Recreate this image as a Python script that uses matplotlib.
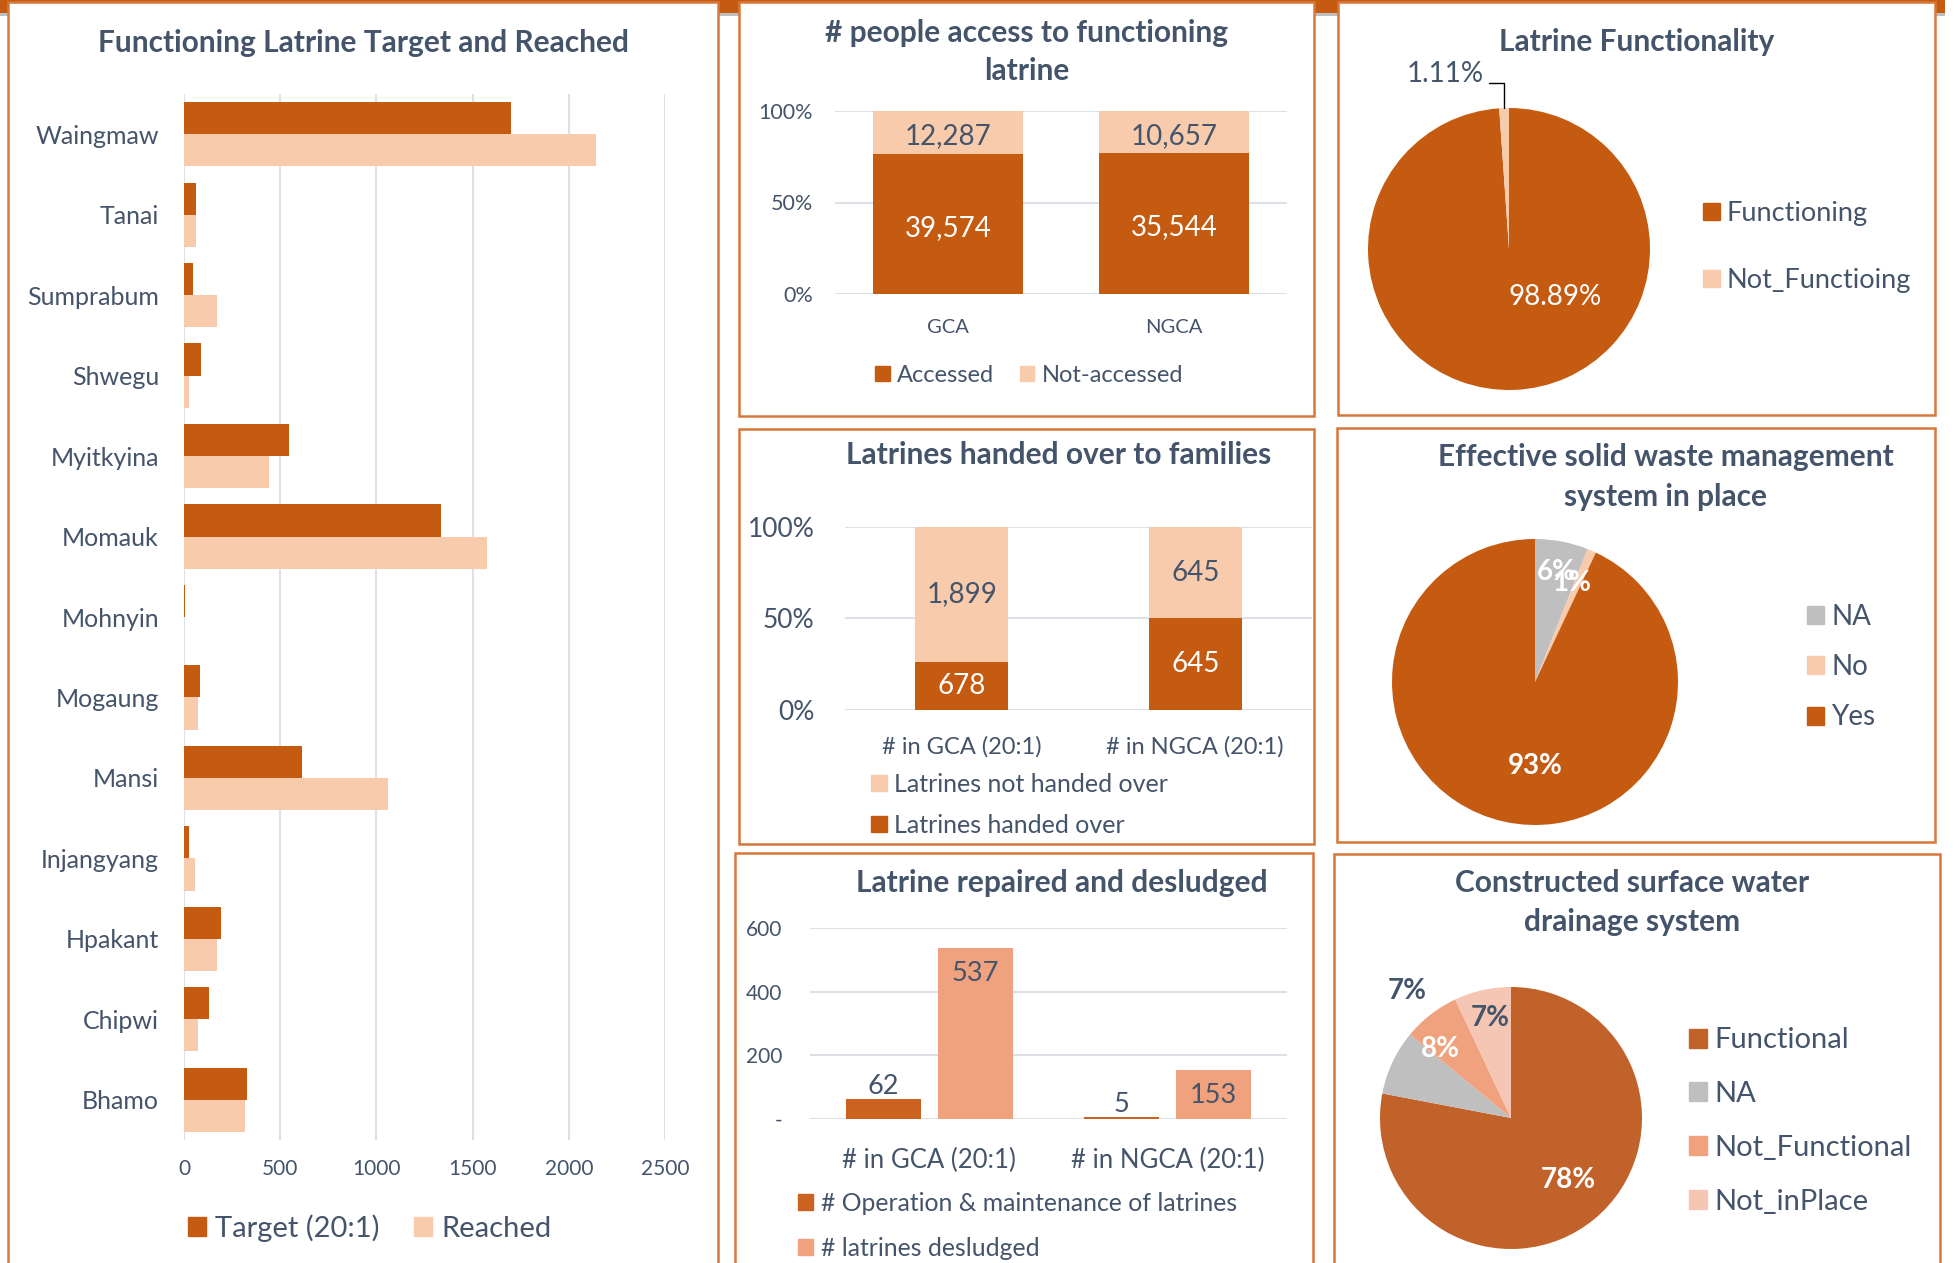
import numpy as np
import matplotlib
matplotlib.use("Agg")
import matplotlib.pyplot as plt
from matplotlib.patches import Rectangle, Patch

plt.rcParams["font.family"] = ["Lato", "DejaVu Sans"]

# ------------------------------------------------------------------
# DATA
# ------------------------------------------------------------------
townships = ["Waingmaw", "Tanai", "Sumprabum", "Shwegu", "Myitkyina", "Momauk",
             "Mohnyin", "Mogaung", "Mansi", "Injangyang", "Hpakant", "Chipwi", "Bhamo"]
target = [1700, 60, 48, 90, 547, 1336, 5, 85, 612, 27, 194, 131, 329]
reached = [2140, 60, 172, 27, 443, 1573, 0, 73, 1058, 56, 169, 73, 317]

access_areas = ["GCA", "NGCA"]
accessed = [39574, 35544]
not_accessed = [12287, 10657]

func_labels = ["Functioning", "Not_Functioing"]
func_values = [98.89, 1.11]

handover_areas = ["# in GCA (20:1)", "# in NGCA (20:1)"]
handed_over = [678, 645]
not_handed_over = [1899, 645]

waste_labels = ["NA", "No", "Yes"]
waste_values = [6, 1, 93]

repair_areas = ["# in GCA (20:1)", "# in NGCA (20:1)"]
om_latrines = [62, 5]
desludged = [537, 153]

drain_labels = ["Functional", "NA", "Not_Functional", "Not_inPlace"]
drain_values = [78, 8, 7, 7]

# ------------------------------------------------------------------
# STYLE
# ------------------------------------------------------------------
DARK = "#C55A11"
LIGHT = "#F8CBAD"
GRAY = "#BFBFBF"
SALMON = "#F0A27F"
PINK = "#F6C6B4"
FUNC = "#C0622A"
OM = "#CC6220"
TEXT = "#44546A"
BORDER = "#D6783A"
GRID = "#DDE1E7"
TITLE_FS = 21.5

W, H = 1959, 1263
fig = plt.figure(figsize=(W / 100, H / 100), dpi=100)


def add_ax(x0, y0, x1, y1):
    # pixel box (top-left origin) -> figure axes
    return fig.add_axes([x0 / W, 1 - y1 / H, (x1 - x0) / W, (y1 - y0) / H])


def ftext(x, y, s, **kw):
    kw.setdefault("color", TEXT)
    kw.setdefault("ha", "center")
    kw.setdefault("va", "center")
    fig.text(x / W, 1 - y / H, s, **kw)


def title(x, y, s):
    ftext(x, y, s, fontsize=TITLE_FS, fontweight="bold")


def panel(x0, y0, x1, y1):
    fig.add_artist(Rectangle((x0 / W, 1 - y1 / H), (x1 - x0) / W, (y1 - y0) / H,
                             transform=fig.transFigure, facecolor="white",
                             edgecolor=BORDER, lw=1.8, zorder=0))


def legend_at(ax, handles, x, y, fs, ncol=1, spacing=0.5, colsp=1.5, tpad=0.3):
    ax.legend(handles=handles, loc="center left", bbox_to_anchor=(x / W, 1 - y / H),
              bbox_transform=fig.transFigure, frameon=False, ncol=ncol,
              fontsize=fs, labelcolor=TEXT, handlelength=0.62, handleheight=0.62,
              handletextpad=tpad, borderpad=0, borderaxespad=0,
              labelspacing=spacing, columnspacing=colsp)


def style_bar_ax(ax):
    for s in ax.spines.values():
        s.set_visible(False)
    ax.set_axisbelow(True)


# background band + panels
fig.add_artist(Rectangle((0, 1 - 16 / H), 1945 / W, 16 / H, transform=fig.transFigure,
                         facecolor="#BFBFBF", lw=0, zorder=0))
fig.add_artist(Rectangle((0, 1 - 13 / H), 1945 / W, 13 / H, transform=fig.transFigure,
                         facecolor=DARK, lw=0, zorder=0))
panel(8, 2, 718, 1290)
panel(739, 2, 1314, 416)
panel(1338, 2, 1935, 415)
panel(739, 429, 1314, 844)
panel(1337, 428, 1935, 842)
panel(735, 853, 1313, 1290)
panel(1334, 854, 1940, 1290)

# ------------------------------------------------------------------
# LEFT: Functioning latrine target and reached
# ------------------------------------------------------------------
ax = add_ax(184, 94, 665, 1140)
y = np.arange(len(townships))
ax.barh(y - 0.2, target, height=0.4, color=DARK)
ax.barh(y + 0.2, reached, height=0.4, color=LIGHT)
ax.set_ylim(len(townships) - 0.5, -0.5)
ax.set_xlim(0, 2500)
ax.set_xticks([0, 500, 1000, 1500, 2000, 2500])
ax.set_yticks(y, labels=townships)
ax.tick_params(axis="y", length=0, pad=18, labelsize=18, labelcolor=TEXT)
ax.tick_params(axis="x", length=0, pad=14, labelsize=15, labelcolor=TEXT)
ax.xaxis.grid(True, color=GRID, lw=1.5)
style_bar_ax(ax)
title(363, 43, "Functioning Latrine Target and Reached")
legend_at(ax, [Patch(color=DARK, label="Target (20:1)"), Patch(color=LIGHT, label="Reached")],
          188, 1228, 21, ncol=2, colsp=1.2)

# ------------------------------------------------------------------
# MIDDLE ROW 1: people access to functioning latrine (100% stacked)
# ------------------------------------------------------------------
ax = add_ax(835, 111, 1287, 294)
x = np.arange(len(access_areas))
tot = np.array(accessed) + np.array(not_accessed)
acc_pct = np.array(accessed) / tot
ax.bar(x, acc_pct, width=0.667, color=DARK)
ax.bar(x, 1 - acc_pct, bottom=acc_pct, width=0.667, color=LIGHT)
for i in range(len(x)):
    ax.text(x[i], acc_pct[i] / 2 - 0.02, f"{accessed[i]:,}", color="white", fontsize=20,
            ha="center", va="center")
    ax.text(x[i], acc_pct[i] + (1 - acc_pct[i]) / 2 - 0.02, f"{not_accessed[i]:,}",
            color=TEXT, fontsize=20, ha="center", va="center")
ax.set_xlim(-0.5, 1.5)
ax.set_ylim(0, 1)
ax.set_yticks([0, 0.5, 1], labels=["0%", "50%", "100%"])
ax.set_xticks(x, labels=access_areas)
ax.tick_params(axis="y", length=0, pad=16, labelsize=15.5, labelcolor=TEXT)
ax.tick_params(axis="x", length=0, pad=18, labelsize=14.5, labelcolor=TEXT)
ax.yaxis.grid(True, color=GRID, lw=1.5)
style_bar_ax(ax)
title(1027, 33, "# people access to functioning")
title(1027, 71, "latrine")
legend_at(ax, [Patch(color=DARK, label="Accessed"), Patch(color=LIGHT, label="Not-accessed")],
          875, 375, 17, ncol=2, colsp=1.1)

# ------------------------------------------------------------------
# RIGHT ROW 1: latrine functionality pie
# ------------------------------------------------------------------
R = 1.4
cx, cy, r = 1509, 249, 141
ax = add_ax(cx - r * R, cy - r * R, cx + r * R, cy + r * R)
wedges, _ = ax.pie(func_values, colors=[DARK, LIGHT], startangle=90, counterclock=False,
                   radius=1, wedgeprops=dict(lw=0))
ax.set_xlim(-R, R)
ax.set_ylim(-R, R)
ax.text(0.33, -0.34, f"{func_values[0]:.2f}%", color="white", fontsize=20,
        ha="center", va="center")
w = wedges[1]
ang = np.deg2rad((w.theta1 + w.theta2) / 2)
ax.annotate(f"{func_values[1]:.2f}%", xy=(np.cos(ang), np.sin(ang)), xytext=(-0.18, 1.24),
            ha="right", va="center", fontsize=20, color=TEXT,
            arrowprops=dict(arrowstyle="-", color="black", lw=1, relpos=(1, 0.15),
                            shrinkA=2, shrinkB=0,
                            connectionstyle="angle,angleA=0,angleB=90,rad=0"))
title(1637, 42, "Latrine Functionality")
legend_at(ax, [Patch(color=DARK, label=func_labels[0]), Patch(color=LIGHT, label=func_labels[1])],
          1703, 247, 19.5, spacing=1.55, tpad=0.25)

# ------------------------------------------------------------------
# MIDDLE ROW 2: latrines handed over to families
# ------------------------------------------------------------------
ax = add_ax(845, 527, 1312, 710)
x = np.arange(len(handover_areas))
tot = np.array(handed_over) + np.array(not_handed_over)
ho_pct = np.array(handed_over) / tot
ax.bar(x, ho_pct, width=0.4, color=DARK)
ax.bar(x, 1 - ho_pct, bottom=ho_pct, width=0.4, color=LIGHT)
for i in range(len(x)):
    ax.text(x[i], ho_pct[i] / 2, f"{handed_over[i]:,}", color="white", fontsize=20,
            ha="center", va="center")
    ax.text(x[i], ho_pct[i] + (1 - ho_pct[i]) / 2, f"{not_handed_over[i]:,}", color=TEXT,
            fontsize=20, ha="center", va="center")
ax.set_xlim(-0.5, 1.5)
ax.set_ylim(0, 1)
ax.set_yticks([0, 0.5, 1], labels=["0%", "50%", "100%"])
ax.set_xticks(x, labels=handover_areas)
ax.tick_params(axis="y", length=0, pad=22, labelsize=19, labelcolor=TEXT)
ax.tick_params(axis="x", length=0, pad=18.5, labelsize=17, labelcolor=TEXT)
ax.yaxis.grid(True, color=GRID, lw=1.5)
style_bar_ax(ax)
title(1059, 455, "Latrines handed over to families")
legend_at(ax, [Patch(color=LIGHT, label="Latrines not handed over"),
               Patch(color=DARK, label="Latrines handed over")],
          871, 805, 18, spacing=0.72)

# ------------------------------------------------------------------
# RIGHT ROW 2: effective solid waste management pie
# ------------------------------------------------------------------
cx, cy, r = 1535, 682, 143
ax = add_ax(cx - r * R, cy - r * R, cx + r * R, cy + r * R)
wedges, _, pcts = ax.pie(waste_values, colors=[GRAY, LIGHT, DARK], startangle=90,
                         counterclock=False, radius=1, autopct="%1.0f%%",
                         pctdistance=0.78, wedgeprops=dict(lw=0),
                         textprops=dict(color="white", fontsize=20, fontweight="bold"))
pcts[1].set_position((0.26, 0.69))
pcts[2].set_position((0, -0.59))
ax.set_xlim(-R, R)
ax.set_ylim(-R, R)
title(1666, 457, "Effective solid waste management")
title(1666, 497, "system in place")
legend_at(ax, [Patch(color=c, label=l) for c, l in zip([GRAY, LIGHT, DARK], waste_labels)],
          1807, 667, 20, spacing=0.88, tpad=0.25)

# ------------------------------------------------------------------
# MIDDLE ROW 3: latrine repaired and desludged
# ------------------------------------------------------------------
ax = add_ax(810, 928, 1287, 1119)
x = np.arange(len(repair_areas))
bw = 0.315
ax.bar(x - 0.193, om_latrines, width=bw, color=OM)
ax.bar(x + 0.193, desludged, width=bw, color=SALMON)
for i in range(len(x)):
    ax.annotate(f"{om_latrines[i]}", (x[i] - 0.193, om_latrines[i]), xytext=(0, 0),
                textcoords="offset points", ha="center", va="bottom", fontsize=19.5, color=TEXT)
    ax.annotate(f"{desludged[i]}", (x[i] + 0.193, desludged[i]), xytext=(0, -9.5),
                textcoords="offset points", ha="center", va="top", fontsize=19.5, color=TEXT)
ax.set_xlim(-0.5, 1.5)
ax.set_ylim(0, 600)
ax.set_yticks([0, 200, 400, 600], labels=["-", "200", "400", "600"])
ax.set_xticks(x, labels=repair_areas)
ax.tick_params(axis="y", length=0, pad=20, labelsize=15, labelcolor=TEXT)
ax.tick_params(axis="x", length=0, pad=20.5, labelsize=18.5, labelcolor=TEXT)
ax.yaxis.grid(True, color=GRID, lw=1.5)
style_bar_ax(ax)
title(1062, 883, "Latrine repaired and desludged")
legend_at(ax, [Patch(color=OM, label="# Operation & maintenance of latrines"),
               Patch(color=SALMON, label="# latrines desludged")],
          798, 1226, 17.8, spacing=0.9)

# ------------------------------------------------------------------
# RIGHT ROW 3: constructed surface water drainage system pie
# ------------------------------------------------------------------
cx, cy, r = 1511, 1118, 131
ax = add_ax(cx - r * R, cy - r * R, cx + r * R, cy + r * R)
drain_colors = [FUNC, GRAY, SALMON, PINK]
wedges, _, pcts = ax.pie(drain_values, colors=drain_colors, startangle=90,
                         counterclock=False, radius=1, autopct="%1.0f%%",
                         pctdistance=0.6, wedgeprops=dict(lw=0),
                         textprops=dict(color="white", fontsize=20, fontweight="bold"))
pcts[0].set_position((0.44, -0.47))
pcts[1].set_position((-0.54, 0.53))
pcts[2].set_position((-0.79, 0.97))
pcts[2].set_color(TEXT)
pcts[3].set_position((-0.16, 0.76))
pcts[3].set_color(TEXT)
ax.set_xlim(-R, R)
ax.set_ylim(-R, R)
title(1632, 883, "Constructed surface water")
title(1632, 922, "drainage system")
legend_at(ax, [Patch(color=c, label=l) for c, l in zip(drain_colors, drain_labels)],
          1689, 1121, 21, spacing=0.95, tpad=0.25)

fig.savefig("out.png", dpi=100)
